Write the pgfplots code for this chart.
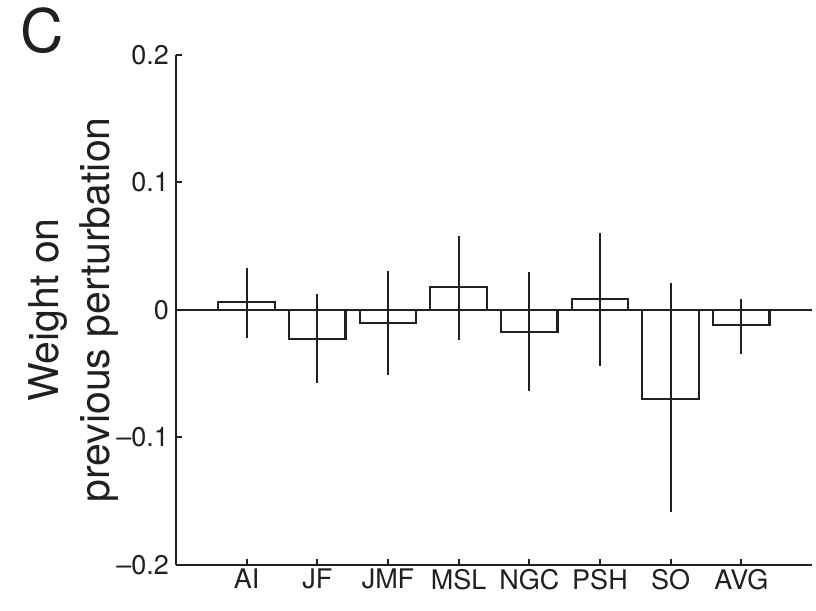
\documentclass[border=0pt]{standalone}
\usepackage{fontspec}
\setmainfont{TeX Gyre Heros}
\usepackage{pgfplots}
\pgfplotsset{compat=1.18}
\definecolor{ink}{HTML}{231F20}
\begin{document}
\begin{tikzpicture}
\useasboundingbox (-88pt,-23pt) rectangle (320pt,282.5pt);
\begin{axis}[
  at={(0,0)}, anchor=south west,
  width=318pt, height=255pt, scale only axis=true,
  xmin=0, xmax=9, ymin=-0.2, ymax=0.2,
  enlargelimits=false,
  axis x line*=bottom, axis y line*=left,
  axis line style={draw=ink, line width=1pt},
  xtick={1,2,3,4,5,6,7,8},
  xticklabels={AI,JF,JMF,MSL,NGC,PSH,SO,AVG},
  ytick={-0.2,-0.1,0,0.1,0.2},
  yticklabels={\textendash0.2,\textendash0.1,0,0.1,0.2},
  tick align=inside,
  major tick length=3pt,
  tick style={draw=ink, line width=1pt},
  ticklabel style={font=\fontsize{13.5}{15}\selectfont, text=ink},
  xticklabel style={yshift=1.5pt},
  ylabel={Weight on\\previous perturbation},
  ylabel style={at={(axis description cs:-0.09,0.5)}, anchor=south, inner sep=0pt, align=center, font=\fontsize{20.5}{25.5}\selectfont, text=ink},
]
\addplot[draw=ink, line width=1.1pt] coordinates {(0,0) (9,0)};
\addplot[ybar, bar width=0.8, fill=white, draw=ink, line width=1.1pt,
  error bars/.cd, y dir=both, y explicit, error mark=none,
  error bar style={line width=1.1pt, draw=ink}]
coordinates {
 (1,0.0063)  += (0,0.0264) -= (0,0.0285)
 (2,-0.0227) += (0,0.0355) -= (0,0.0346)
 (3,-0.0099) += (0,0.0405) -= (0,0.0414)
 (4,0.0180)  += (0,0.0403) -= (0,0.0415)
 (5,-0.0170) += (0,0.0466) -= (0,0.0463)
 (6,0.0084)  += (0,0.0520) -= (0,0.0523)
 (7,-0.0695) += (0,0.0904) -= (0,0.0892)
 (8,-0.0120) += (0,0.0209) -= (0,0.0225)
};
\end{axis}
\node[text=ink, inner sep=0pt, font=\fontsize{30}{34}\selectfont] at (-67pt,267pt) {C};
\end{tikzpicture}
\end{document}
